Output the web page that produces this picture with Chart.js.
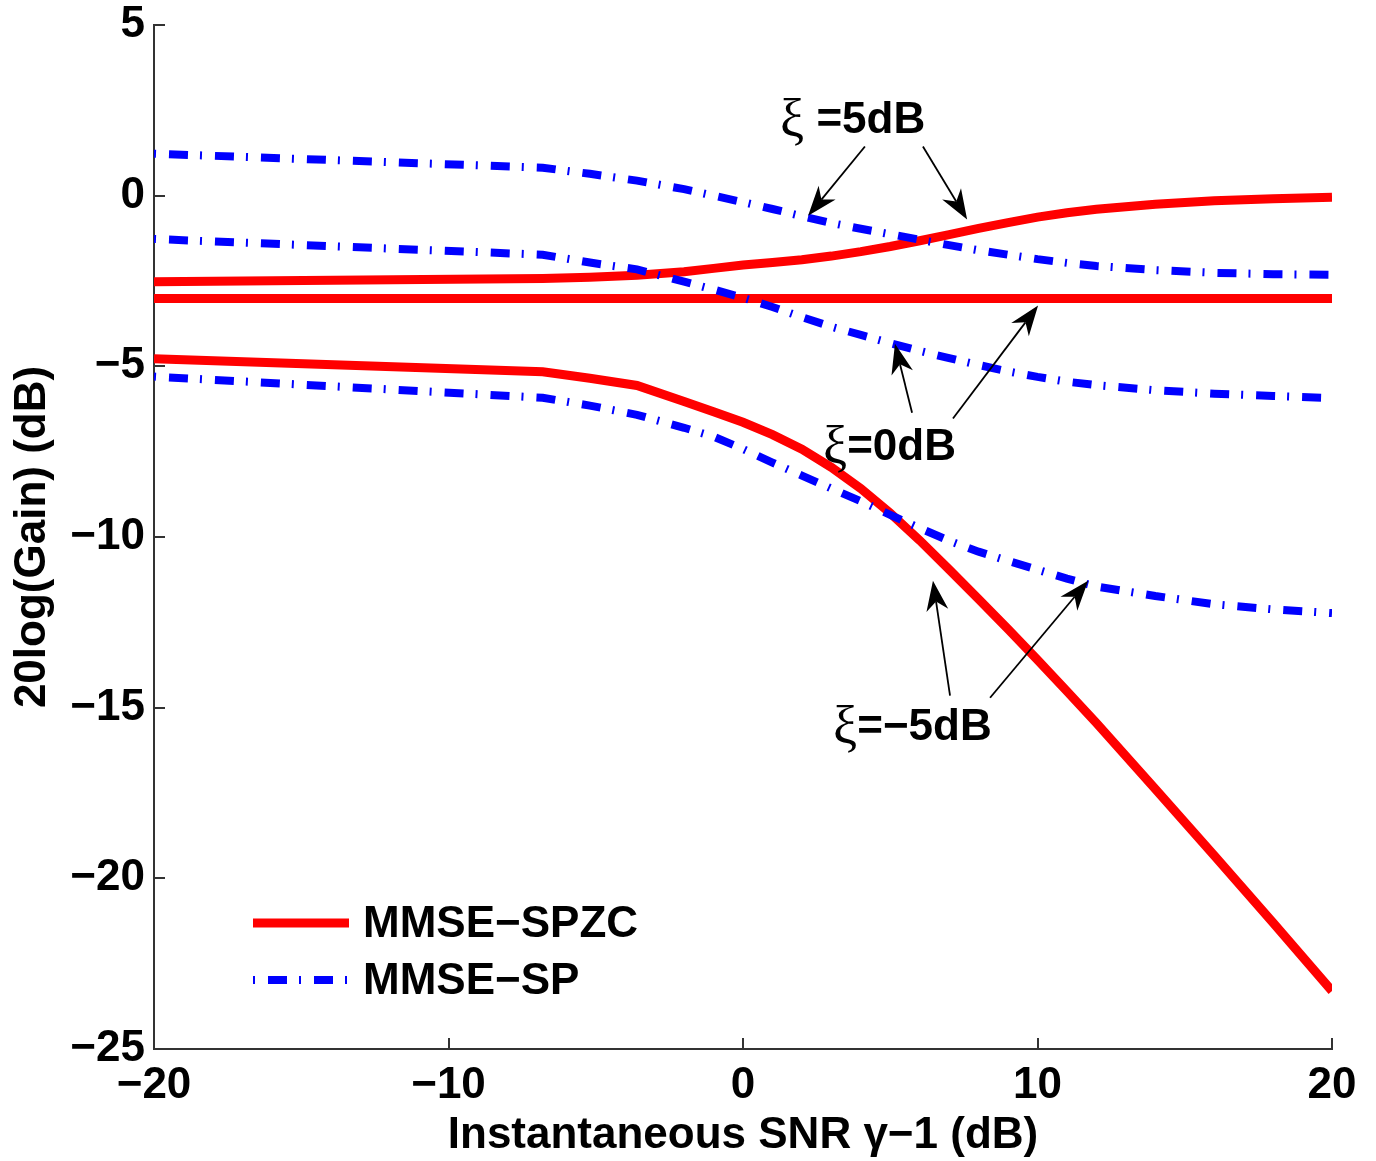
<!DOCTYPE html>
<html>
<head>
<meta charset="utf-8">
<title>Gain vs instantaneous SNR</title>
<script src="https://cdn.jsdelivr.net/npm/chart.js@4.4.1/dist/chart.umd.min.js"></script>
<style>
  html, body { margin: 0; padding: 0; background: #fff; }
  #wrap { width: 1376px; height: 1161px; }
</style>
</head>
<body>
<div id="wrap"><canvas id="gain-chart" width="1376" height="1161"></canvas></div>
<script>
// instantaneous SNR gamma-1 (dB)
const snrDb = [-20, -6.8, -5.2, -3.6, -2, -1, 0, 1, 2, 3, 4, 5, 6, 7, 8, 9, 10, 11, 12, 14, 16, 18, 20];

// MMSE-SPZC gain (dB) for xi = 5, 0, -5 dB
const spzcXi5  = [-2.52, -2.43, -2.39, -2.33, -2.23, -2.13, -2.03, -1.96, -1.88, -1.77, -1.64, -1.49, -1.32, -1.14, -0.96, -0.79, -0.63, -0.5, -0.4, -0.25, -0.15, -0.09, -0.05];
const spzcXi0  = [-3.01, -3.01, -3.01, -3.01, -3.01, -3.01, -3.01, -3.01, -3.01, -3.01, -3.01, -3.01, -3.01, -3.01, -3.01, -3.01, -3.01, -3.01, -3.01, -3.01, -3.01, -3.01, -3.01];
const spzcXiM5 = [-4.78, -5.16, -5.35, -5.56, -6.03, -6.33, -6.64, -7.0, -7.43, -7.96, -8.58, -9.3, -10.1, -10.95, -11.82, -12.7, -13.6, -14.52, -15.45, -17.38, -19.33, -21.3, -23.3];

// MMSE-SP gain (dB) for xi = 5, 0, -5 dB
const spXi5  = [1.23, 0.82, 0.64, 0.44, 0.19, 0.0, -0.19, -0.39, -0.6, -0.8, -0.97, -1.13, -1.29, -1.45, -1.6, -1.73, -1.86, -1.97, -2.06, -2.18, -2.26, -2.3, -2.32];
const spXi0  = [-1.27, -1.73, -1.96, -2.16, -2.52, -2.75, -2.99, -3.26, -3.56, -3.84, -4.08, -4.32, -4.55, -4.76, -4.96, -5.15, -5.31, -5.45, -5.55, -5.7, -5.8, -5.87, -5.93];
const spXiM5 = [-5.3, -5.92, -6.15, -6.42, -6.8, -7.06, -7.42, -7.82, -8.2, -8.58, -8.95, -9.35, -9.74, -10.11, -10.43, -10.7, -10.96, -11.22, -11.45, -11.73, -11.97, -12.12, -12.23];

const seriesNames = ['MMSE\u2212SPZC', 'MMSE\u2212SP'];
const xTicks = [-20, -10, 0, 10, 20];
const yTicks = [5, 0, -5, -10, -15, -20, -25];

const boldFont = { family: '"Liberation Sans", Arial, Helvetica, sans-serif', size: 44, weight: 'bold', lineHeight: 1 };
const minusSign = v => String(v).replace('-', '\u2212');
const toPoints = ys => snrDb.map((x, i) => ({ x: x, y: ys[i] }));

const redLine = { borderColor: '#ff0000', borderWidth: 9, pointRadius: 0, tension: 0, order: 1, borderCapStyle: 'butt' };
const blueLine = { borderColor: '#0000ff', borderWidth: 8, pointRadius: 0, tension: 0, order: 0,
                   borderDash: [19, 12, 2, 13], borderDashOffset: 31, borderCapStyle: 'butt' };

// xi labels with their arrows, in data units
const xiNotes = [
  { text: ' =5dB', at: [1.26, 2.2], arrows: [[[4.14, 1.44], [2.21, -0.59]], [[6.11, 1.44], [7.61, -0.7]]] },
  { text: '=0dB', at: [2.72, -7.38], arrows: [[[5.74, -6.36], [5.16, -4.34]], [[7.13, -6.53], [10.02, -3.22]]] },
  { text: '=\u22125dB', at: [3.06, -15.59], arrows: [[[7.03, -14.65], [6.45, -11.28]], [[8.39, -14.71], [11.72, -11.28]]] }
];

function drawArrow(ctx, x0, y0, x1, y1) {
    const a = Math.atan2(y1 - y0, x1 - x0);
    const len = 30, half = 11, back = 21;
    ctx.beginPath();
    ctx.moveTo(x0, y0);
    ctx.lineTo(x1 - Math.cos(a) * back, y1 - Math.sin(a) * back);
    ctx.stroke();
    ctx.save();
    ctx.translate(x1, y1);
    ctx.rotate(a);
    ctx.beginPath();
    ctx.moveTo(0, 0);
    ctx.lineTo(-len, -half);
    ctx.lineTo(-back, 0);
    ctx.lineTo(-len, half);
    ctx.closePath();
    ctx.fill();
    ctx.restore();
}

const inwardTicks = {
    id: 'inwardTicks',
    afterDraw(chart) {
        const { ctx, chartArea, scales } = chart;
        ctx.save();
        ctx.strokeStyle = '#333';
        ctx.lineWidth = 2;
        ctx.beginPath();
        scales.x.ticks.forEach(t => {
            const px = Math.round(scales.x.getPixelForValue(t.value));
            ctx.moveTo(px, chartArea.bottom);
            ctx.lineTo(px, chartArea.bottom - 11);
        });
        scales.y.ticks.forEach(t => {
            const py = Math.round(scales.y.getPixelForValue(t.value));
            ctx.moveTo(chartArea.left, py);
            ctx.lineTo(chartArea.left + 11, py);
        });
        ctx.stroke();
        ctx.restore();
    }
};

const xiLabels = {
    id: 'xiLabels',
    afterDatasetsDraw(chart) {
        const { ctx, scales } = chart;
        ctx.save();
        ctx.fillStyle = '#000';
        ctx.strokeStyle = '#000';
        ctx.lineWidth = 1.8;
        xiNotes.forEach(n => {
            n.arrows.forEach(([from, to]) => {
                drawArrow(ctx,
                    scales.x.getPixelForValue(from[0]), scales.y.getPixelForValue(from[1]),
                    scales.x.getPixelForValue(to[0]), scales.y.getPixelForValue(to[1]));
            });
            const px = scales.x.getPixelForValue(n.at[0]);
            const py = scales.y.getPixelForValue(n.at[1]);
            ctx.textBaseline = 'middle';
            ctx.textAlign = 'left';
            ctx.font = '54px "Liberation Serif", "DejaVu Serif", serif';
            ctx.fillText('\u03be', px, py + 2);
            const w = ctx.measureText('\u03be').width;
            ctx.font = 'bold 44px "Liberation Sans", Arial, sans-serif';
            ctx.fillText(n.text, px + w, py);
        });
        ctx.restore();
    }
};

// legend in the lower left corner of the plot
const cornerLegend = {
    id: 'cornerLegend',
    afterDatasetsDraw(chart) {
        const { ctx, chartArea } = chart;
        const rows = [chart.data.datasets[0], chart.data.datasets[3]];
        ctx.save();
        rows.forEach((ds, i) => {
            const y = 923 + i * 57;
            const x0 = chartArea.left + 99;
            ctx.strokeStyle = ds.borderColor;
            ctx.lineWidth = ds.borderWidth;
            ctx.lineCap = 'butt';
            ctx.setLineDash(ds.borderDash || []);
            ctx.lineDashOffset = ds.borderDashOffset || 0;
            ctx.beginPath();
            ctx.moveTo(x0, y);
            ctx.lineTo(x0 + 96, y);
            ctx.stroke();
            ctx.setLineDash([]);
            ctx.fillStyle = '#000';
            ctx.font = 'bold 44px "Liberation Sans", Arial, sans-serif';
            ctx.textBaseline = 'middle';
            ctx.fillText(ds.label, chartArea.left + 209, y + 2);
        });
        ctx.restore();
    }
};

new Chart(document.getElementById('gain-chart'), {
    type: 'line',
    data: {
        datasets: [
            { ...redLine, label: seriesNames[0], data: toPoints(spzcXi5) },
            { ...redLine, label: seriesNames[0], data: toPoints(spzcXi0) },
            { ...redLine, label: seriesNames[0], data: toPoints(spzcXiM5) },
            { ...blueLine, label: seriesNames[1], data: toPoints(spXi5) },
            { ...blueLine, label: seriesNames[1], data: toPoints(spXi0) },
            { ...blueLine, label: seriesNames[1], data: toPoints(spXiM5) }
        ]
    },
    options: {
        responsive: false,
        animation: false,
        layout: { padding: { left: 0, top: 25, right: 44, bottom: 0 } },
        plugins: { legend: { display: false }, tooltip: { enabled: false } },
        scales: {
            x: {
                type: 'linear',
                min: xTicks[0],
                max: xTicks[xTicks.length - 1],
                afterBuildTicks: s => { s.ticks = xTicks.map(v => ({ value: v })); },
                afterFit: s => { s.height = 112; },
                ticks: { font: boldFont, color: '#000', padding: 15, maxRotation: 0, callback: minusSign },
                grid: { display: false, drawTicks: false },
                border: { color: '#333', width: 2 },
                title: { display: true, text: 'Instantaneous SNR \u03b3\u22121 (dB)', font: boldFont, color: '#000', padding: { top: 0, bottom: 3 } }
            },
            y: {
                min: yTicks[yTicks.length - 1],
                max: yTicks[0],
                afterBuildTicks: s => { s.ticks = yTicks.map(v => ({ value: v })); },
                afterFit: s => { s.width = 154; },
                ticks: { font: { ...boldFont, lineHeight: 0.7 }, color: '#000', padding: 9, callback: minusSign },
                grid: { display: false, drawTicks: false },
                border: { color: '#333', width: 2 },
                title: { display: true, text: '20log(Gain) (dB)', font: boldFont, color: '#000', padding: { top: 11, bottom: 0 } }
            }
        }
    },
    plugins: [inwardTicks, xiLabels, cornerLegend]
});
</script>
</body>
</html>
